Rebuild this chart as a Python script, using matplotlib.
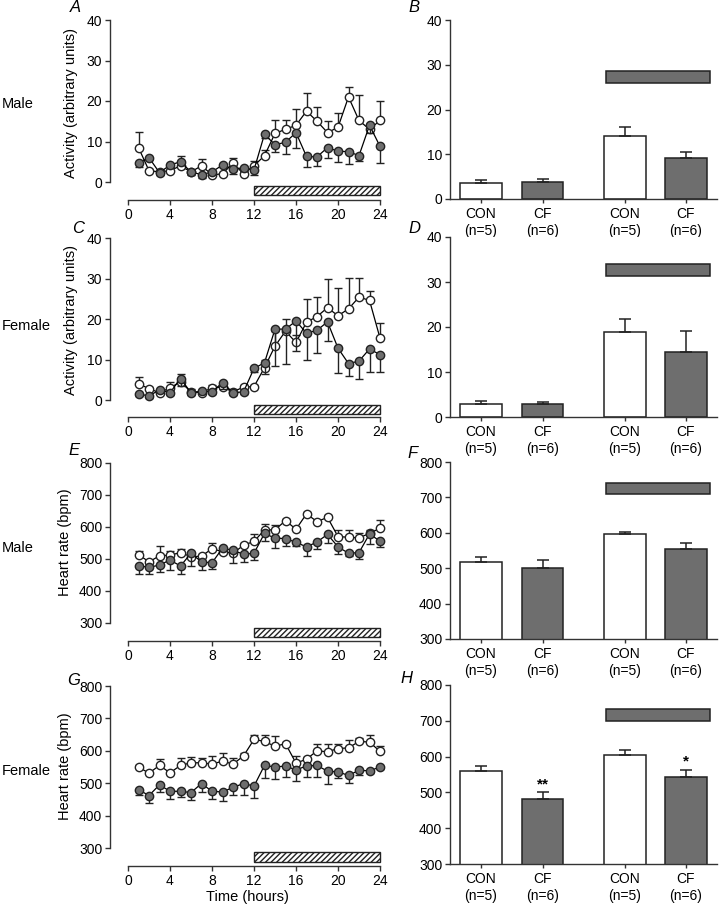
import matplotlib
matplotlib.use("Agg")
import matplotlib.pyplot as plt
from matplotlib.patches import Rectangle
import numpy as np

plt.rcParams['font.family'] = ['Liberation Sans', 'DejaVu Sans']

hours = list(range(1, 25))

# Panel A: male activity
A_con = [8.5, 2.8, 2.5, 2.8, 4.0, 2.5, 4.0, 1.8, 2.0, 4.7, 2.0, 4.0, 6.5, 12.0, 13.0, 14.0, 17.5, 15.0, 12.2, 13.5, 21.0, 15.2, 13.0, 15.2]
A_con_err = [3.8, 0.5, 0.5, 0.8, 2.3, 0.5, 1.8, 0.5, 0.5, 1.3, 0.5, 1.3, 1.5, 3.2, 2.2, 4.0, 4.5, 3.5, 2.8, 3.5, 2.5, 6.3, 0.8, 4.8]
A_cf = [4.8, 6.0, 2.3, 4.2, 5.0, 2.5, 1.8, 2.5, 4.2, 3.2, 3.5, 3.0, 11.8, 9.2, 9.8, 12.2, 6.3, 6.2, 8.5, 7.6, 7.5, 6.5, 14.0, 8.8]
A_cf_err = [1.0, 0.5, 0.5, 0.5, 0.5, 0.8, 0.8, 0.5, 0.5, 1.3, 0.8, 1.2, 1.0, 1.7, 3.0, 3.7, 2.5, 2.2, 2.5, 2.6, 3.1, 1.3, 2.0, 4.0]

# Panel C: female activity
C_con = [4.0, 2.8, 1.8, 3.0, 4.5, 2.0, 1.8, 3.0, 3.2, 2.0, 3.2, 3.3, 8.0, 13.3, 17.0, 14.2, 19.2, 20.6, 22.8, 20.8, 22.5, 25.4, 24.6, 15.3]
C_con_err = [1.8, 0.5, 0.5, 1.5, 1.8, 0.8, 0.5, 0.8, 0.5, 0.8, 0.5, 0.5, 2.0, 3.7, 3.0, 1.8, 5.8, 4.9, 7.2, 6.9, 7.7, 4.8, 2.2, 3.7]
C_cf = [1.5, 1.0, 2.5, 1.8, 5.3, 1.8, 2.2, 2.0, 4.3, 1.8, 2.0, 7.8, 9.2, 17.5, 17.5, 19.5, 16.5, 17.2, 19.3, 12.8, 9.0, 9.6, 12.6, 11.2]
C_cf_err = [0.5, 0.5, 0.5, 0.5, 1.8, 0.5, 0.5, 0.5, 1.5, 0.5, 0.5, 0.8, 2.9, 9.0, 8.7, 7.3, 6.5, 5.7, 4.7, 6.2, 3.0, 4.3, 5.6, 4.4]

# Panel E: male heart rate
E_con = [514, 491, 510, 512, 520, 507, 509, 532, 523, 518, 543, 555, 591, 591, 620, 593, 641, 617, 630, 570, 568, 566, 580, 596]
E_con_err = [11, 5, 30, 13, 12, 8, 6, 18, 8, 10, 8, 23, 19, 14, 5, 6, 5, 6, 6, 22, 22, 14, 10, 26]
E_cf = [479, 474, 481, 497, 478, 518, 491, 488, 534, 527, 515, 518, 580, 565, 564, 552, 538, 553, 577, 538, 518, 520, 578, 556]
E_cf_err = [27, 22, 23, 32, 26, 40, 26, 20, 10, 39, 23, 21, 25, 32, 24, 10, 28, 23, 27, 21, 8, 20, 30, 20]

# Panel G: female heart rate
G_con = [550, 531, 555, 532, 555, 563, 563, 559, 568, 559, 584, 635, 629, 614, 622, 562, 574, 600, 597, 607, 609, 629, 627, 598]
G_con_err = [5, 5, 21, 5, 22, 17, 15, 24, 24, 19, 8, 15, 21, 31, 6, 21, 6, 20, 25, 13, 23, 11, 21, 17]
G_cf = [480, 462, 495, 475, 475, 471, 499, 475, 473, 487, 499, 491, 555, 550, 553, 541, 553, 555, 537, 535, 524, 540, 538, 550]
G_cf_err = [15, 22, 23, 23, 17, 23, 27, 25, 28, 22, 34, 36, 40, 38, 35, 33, 33, 35, 40, 18, 22, 15, 8, 5]

# Bar panels: [CON light, CF light, CON dark, CF dark]
bar_labels = ['CON\n(n=5)', 'CF\n(n=6)', 'CON\n(n=5)', 'CF\n(n=6)']
B_vals = [3.65, 3.8, 14.1, 9.1]
B_err = [0.55, 0.6, 2.1, 1.5]
D_vals = [2.95, 2.8, 18.8, 14.5]
D_err = [0.55, 0.5, 3.0, 4.7]
F_vals = [518, 500, 596, 554]
F_err = [14, 23, 7, 16]
H_vals = [561, 481, 604, 542]
H_err = [12, 20, 15, 21]
H_stars = ['', '**', '', '*']

GRAY = '#6e6e6e'
EDGE = '#222222'
W, Hh = 720, 907

fig = plt.figure(figsize=(W / 100, Hh / 100), dpi=100)


def add_ax(l, r, t, b):
    return fig.add_axes([l / W, 1 - b / Hh, (r - l) / W, (b - t) / Hh])


def style(ax):
    for s in ['top', 'right']:
        ax.spines[s].set_visible(False)
    for s in ['left', 'bottom']:
        ax.spines[s].set_linewidth(1.0)
        ax.spines[s].set_color('#333333')
    ax.tick_params(axis='both', length=3.5, width=1.0, color='#333333',
                   labelsize=10, pad=2)


def line_panel(top, zero, bottom, ytop, ybot0, con, con_err, cf, cf_err,
               hatch_lo, hatch_hi, ylabel, lab_x, lab_y):
    pxu = (zero - top) / (ytop - ybot0)
    ylow = ybot0 - (bottom - zero) / pxu
    ax = add_ax(110, 385, top, bottom)
    style(ax)
    ax.set_xlim(-18 / 10.5, 24 + 5 / 10.5)
    ax.set_ylim(ylow, ytop)
    ax.spines['left'].set_bounds(ybot0, ytop)
    ax.spines['bottom'].set_bounds(0, 24)
    ax.set_xticks(range(0, 25, 4))
    step = (ytop - ybot0) / 4 if ytop <= 50 else 100
    ax.set_yticks(np.arange(ybot0, ytop + 0.1, step))
    ax.errorbar(hours, con, yerr=[np.zeros(len(con)), con_err], fmt='none',
                ecolor=EDGE, elinewidth=1.0, capsize=3, capthick=1.0, zorder=2)
    ax.plot(hours, con, '-o', color='black', lw=0.9, mfc='white', mec=EDGE,
            mew=1.0, ms=6, zorder=3)
    ax.errorbar(hours, cf, yerr=[cf_err, np.zeros(len(cf))], fmt='none',
                ecolor=EDGE, elinewidth=1.0, capsize=3, capthick=1.0, zorder=4)
    ax.plot(hours, cf, '-o', color='black', lw=0.9, mfc=GRAY, mec=EDGE,
            mew=1.0, ms=6, zorder=5)
    ax.add_patch(Rectangle((12, hatch_lo), 12, hatch_hi - hatch_lo,
                           facecolor='white', edgecolor=EDGE, hatch='//////',
                           lw=1.0, clip_on=False, zorder=1))
    ax.set_ylabel(ylabel, fontsize=10.5)
    ax.yaxis.set_label_coords(lab_x, lab_y)
    return ax


def bar_panel(top, bottom, ytop, ybot, vals, errs, rect_lo, rect_hi, stars=None):
    ax = add_ax(450, 720, top, bottom)
    style(ax)
    pos = np.array([0, 1, 2.34, 3.33])
    ax.set_xlim(-31 / 61.5, (720 - 481) / 61.5)
    ax.set_ylim(ybot, ytop)
    ax.spines['bottom'].set_bounds(-31 / 61.5, (717 - 481) / 61.5)
    colors = ['white', GRAY, 'white', GRAY]
    ax.bar(pos, vals, width=0.68, color=colors, edgecolor=EDGE, lw=1.1, zorder=2)
    ax.errorbar(pos, vals, yerr=[np.zeros(4), errs], fmt='none', ecolor=EDGE,
                elinewidth=1.1, capsize=4.5, capthick=1.1, zorder=3)
    ax.set_xticks(pos)
    ax.set_xticklabels(bar_labels, fontsize=10, linespacing=1.2)
    ax.tick_params(axis='x', length=3, pad=3)
    step = (ytop - ybot) / 4 if ytop <= 50 else 100
    ax.set_yticks(np.arange(ybot, ytop + 0.1, step))
    ax.add_patch(Rectangle((pos[2] - 0.31, rect_lo), 1.69, rect_hi - rect_lo,
                           facecolor=GRAY, edgecolor=EDGE, lw=1.1, zorder=2))
    if stars:
        for p, v, e, s in zip(pos, vals, errs, stars):
            if s:
                ax.text(p, v + e + (ytop - ybot) * 0.005, s, ha='center',
                        va='bottom', fontsize=11, fontweight='bold')
    return ax


line_panel(20, 182, 200, 40, 0, A_con, A_con_err, A_cf, A_cf_err, -3.2, -1.0,
           'Activity (arbitrary units)', -0.118, 0.54)
line_panel(238, 400, 417, 40, 0, C_con, C_con_err, C_cf, C_cf_err, -3.45, -1.25,
           'Activity (arbitrary units)', -0.118, 0.54)
line_panel(463, 623, 641, 800, 300, E_con, E_con_err, E_cf, E_cf_err, 256, 284,
           'Heart rate (bpm)', -0.138, 0.556)
axG = line_panel(686, 848, 866, 800, 300, G_con, G_con_err, G_cf, G_cf_err, 257, 287,
                 'Heart rate (bpm)', -0.138, 0.556)
axG.set_xlabel('Time (hours)', fontsize=10.5, labelpad=2)

bar_panel(20, 199, 40, 0, B_vals, B_err, 26.0, 28.5)
bar_panel(237, 417, 40, 0, D_vals, D_err, 31.4, 33.9)
bar_panel(462, 639, 800, 300, F_vals, F_err, 711, 742)
bar_panel(685, 864, 800, 300, H_vals, H_err, 700, 732, H_stars)

for (x, y, s) in [(70, 12, 'A'), (408, 12, 'B'), (72, 233, 'C'), (408, 233, 'D'),
                  (68, 455, 'E'), (407, 458, 'F'), (67, 685, 'G'), (400, 683, 'H')]:
    fig.text(x / W, 1 - y / Hh, s, fontsize=12, fontstyle='italic', ha='left',
             va='baseline')

for (y, s) in [(104, 'Male'), (326, 'Female'), (548, 'Male'), (771, 'Female')]:
    fig.text(2 / W, 1 - y / Hh, s, fontsize=10.5, ha='left', va='center')

fig.savefig('out.png', dpi=100)
